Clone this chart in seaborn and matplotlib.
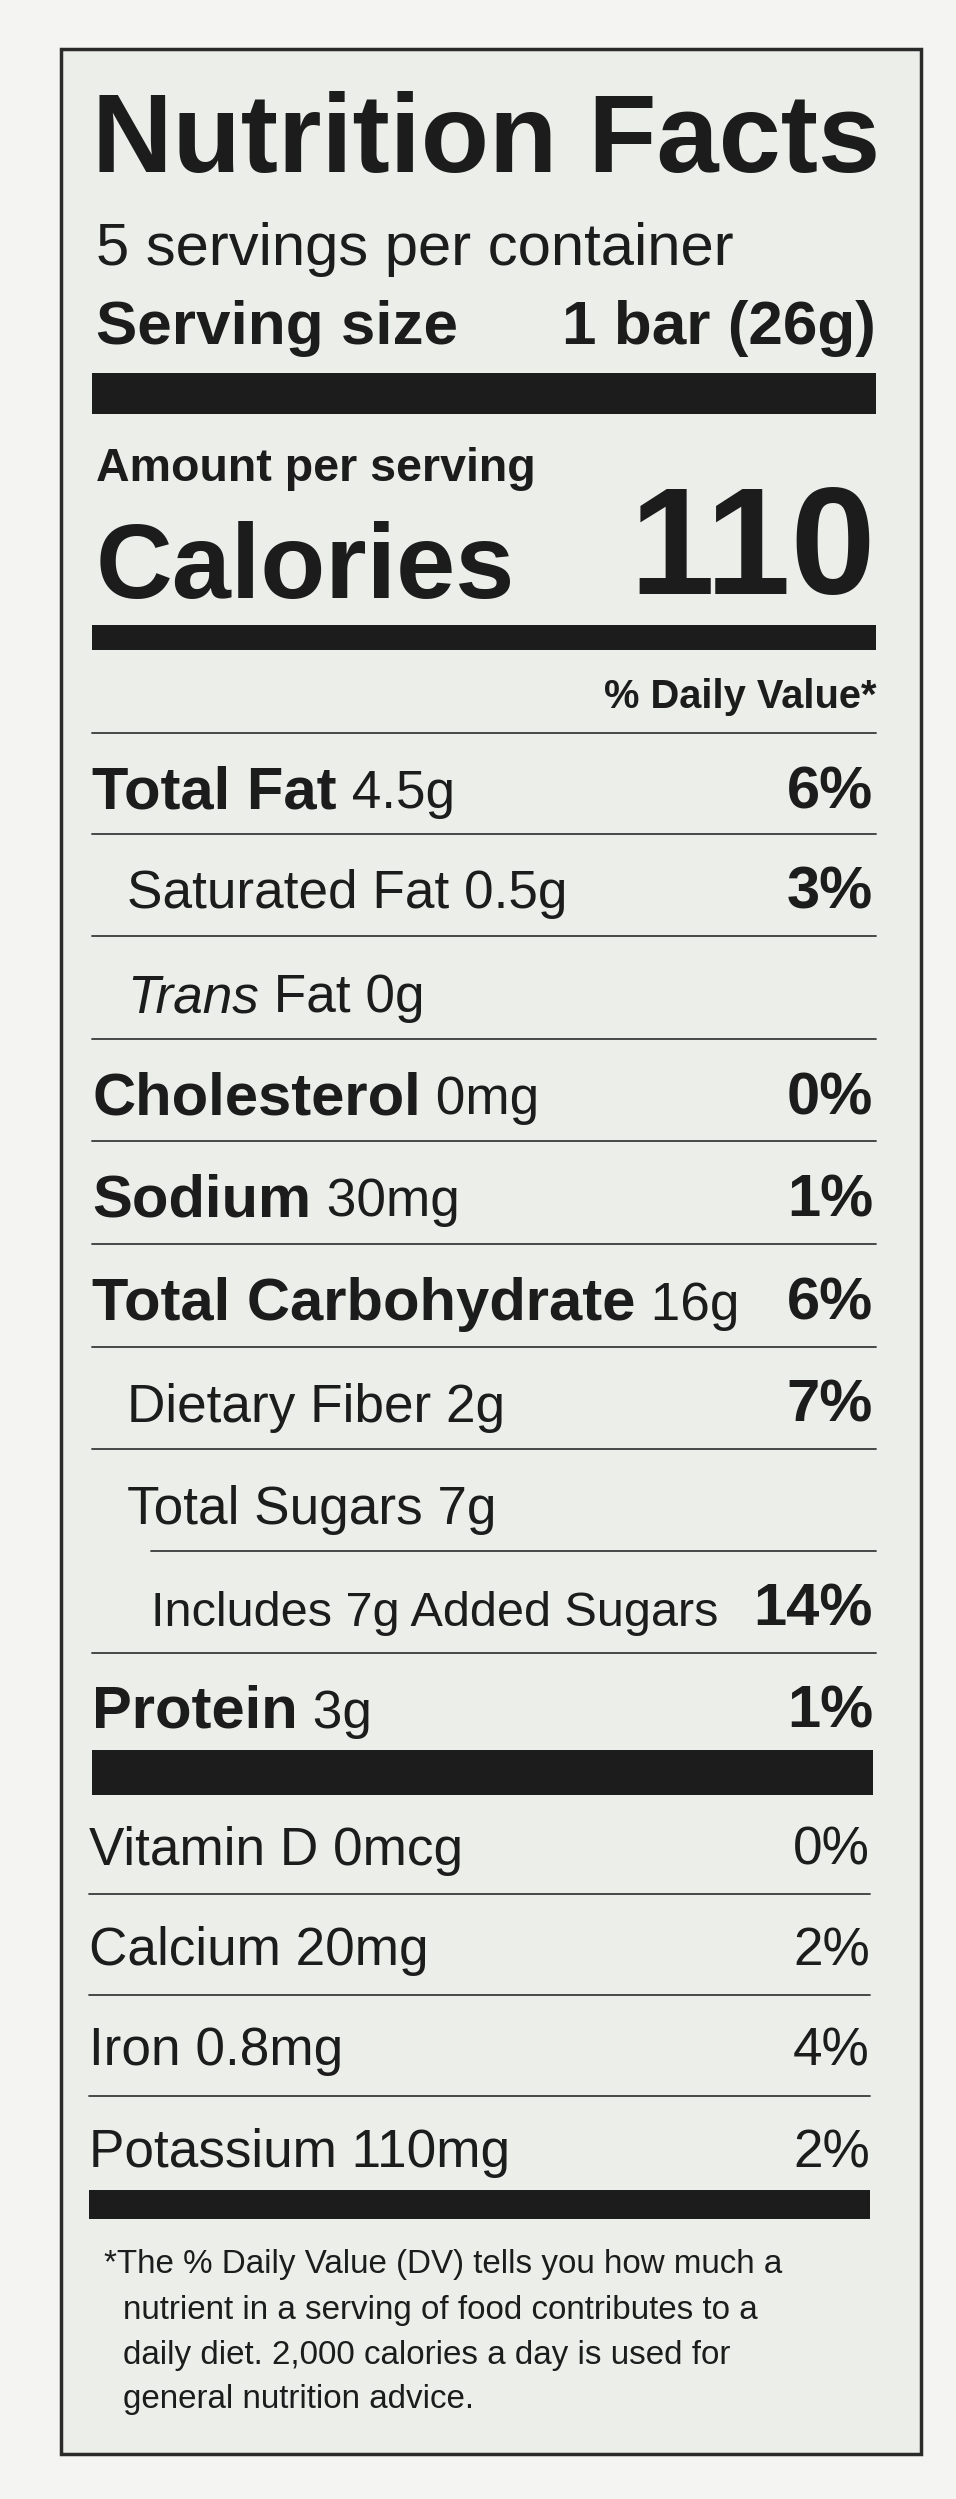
import matplotlib
matplotlib.use("Agg")
import matplotlib.pyplot as plt
import seaborn as sns
from matplotlib.patches import Rectangle

sns.set_theme(style="white")
plt.rcParams['font.family'] = ['Liberation Sans', 'DejaVu Sans']

title = "Nutrition Facts"
servings = "5 servings per container"
serving_label, serving_value = "Serving size", "1 bar (26g)"
calories = "110"

nutrients = [
    ("Total Fat", " 4.5g", "6%", 0),
    ("", "Saturated Fat 0.5g", "3%", 1),
    ("", "TRANS", "", 1),
    ("Cholesterol", " 0mg", "0%", 0),
    ("Sodium", " 30mg", "1%", 0),
    ("Total Carbohydrate", " 16g", "6%", 0),
    ("", "Dietary Fiber 2g", "7%", 1),
    ("", "Total Sugars 7g", "", 1),
    ("", "Includes 7g Added Sugars", "14%", 2),
    ("Protein", " 3g", "1%", 0),
]
vitamins = ["Vitamin D 0mcg", "Calcium 20mg", "Iron 0.8mg", "Potassium 110mg"]
vitamin_dv = ["0%", "2%", "4%", "2%"]
footnote = ["*The % Daily Value (DV) tells you how much a",
            "nutrient in a serving of food contributes to a",
            "daily diet. 2,000 calories a day is used for",
            "general nutrition advice."]

W, H = 600, 1568
fig = plt.figure(figsize=(9.56, 24.99), dpi=100, facecolor="#f4f4f2")
ax = fig.add_axes([0, 0, 1, 1])
ax.set_xlim(0, W)
ax.set_ylim(H, 0)
ax.axis("off")
ink = "#1c1c1c"
ax.add_patch(Rectangle((38, 31), 540, 1509, facecolor="#eceeea", edgecolor="#2a2a2a", lw=2.5))
L, R = 58, 550
S = 956 / 600
r = fig.canvas.get_renderer()

def txt(x, y, s, size, weight="normal", ha="left", style="normal"):
    return ax.text(x, y, s, fontsize=size * S, fontweight=weight, ha=ha, va="baseline",
                   color=ink, style=style)

def right_edge(t):
    bb = t.get_window_extent(renderer=r)
    return ax.transData.inverted().transform((bb.x1, bb.y0))[0]

def bar(y0, y1, x0=L, x1=R):
    ax.add_patch(Rectangle((x0, y0), x1 - x0, y1 - y0, facecolor=ink, edgecolor="none"))

def line(y, x0=L, x1=R):
    ax.plot([x0, x1], [y, y], color="#3a3a3a", lw=1.3)

txt(L, 108, title, 50.5, "bold")
txt(L + 2, 166, servings, 27)
txt(L + 2, 216, serving_label, 28, "bold")
txt(R, 216, serving_value, 28, "bold", ha="right")
bar(234, 260)
txt(L + 2, 302, "Amount per serving", 21, "bold")
txt(L + 2, 375, "Calories", 48, "bold")
txt(R, 373, calories, 69, "bold", ha="right")
bar(392, 408)
txt(R, 444, "% Daily Value*", 18, "bold", ha="right")
line(460)

row_y = [494, 557, 622, 686, 750, 815, 879, 943, 1007, 1071]
indent = [L, 80, 95]
for i, (b, reg, dv, ind) in enumerate(nutrients):
    y = row_y[i] + 13
    x = indent[ind]
    size = 22 if ind == 2 else 24
    if reg == "TRANS":
        t1 = txt(x, y, "Trans", size, style="italic")
        txt(right_edge(t1), y, " Fat 0g", size)
    elif b:
        t1 = txt(x, y, b, 27, "bold")
        txt(right_edge(t1), y, reg, size)
    else:
        txt(x, y, reg, size)
    if dv:
        txt(R - 2, y, dv, 27, "bold", ha="right")
    if i < len(nutrients) - 1:
        ly = (row_y[i] + row_y[i + 1]) / 2 - 2
        line(ly, 95 if i == 7 else L)
bar(1098, 1126, x1=R - 2)

vy = [1157, 1220, 1283, 1347]
for i, (v, d) in enumerate(zip(vitamins, vitamin_dv)):
    txt(56, vy[i] + 13, v, 24)
    txt(R - 4, vy[i] + 13, d, 24, ha="right")
    if i < 3:
        line((vy[i] + vy[i + 1]) / 2, 56, R - 4)
bar(1374, 1392, 56, R - 4)
fy = [1418, 1447, 1475, 1503]
for i, f in enumerate(footnote):
    txt(65 if i == 0 else 77, fy[i] + 8, f, 15)

fig.savefig("out.png", dpi=100, facecolor=fig.get_facecolor())
